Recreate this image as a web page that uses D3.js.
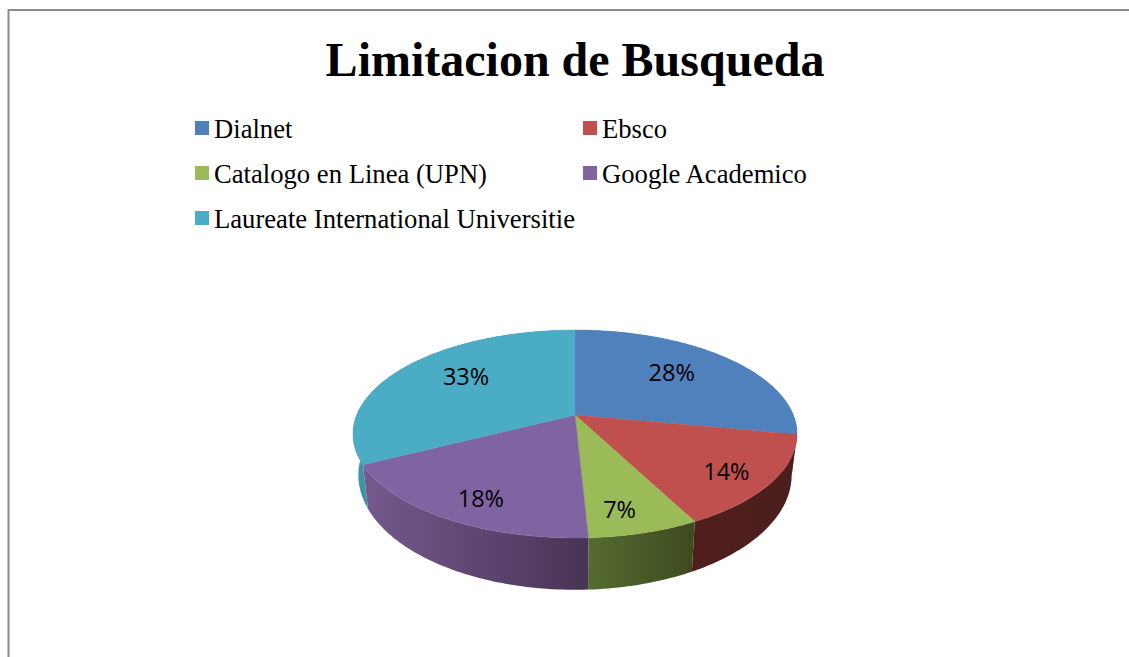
<!DOCTYPE html>
<html>
<head>
<meta charset="utf-8">
<script src="https://cdn.jsdelivr.net/npm/d3@7"></script>
<style>
  html, body { margin: 0; background: #fff; overflow: hidden; }
</style>
</head>
<body>
<div id="canvas"></div>
<script>
const categories = [
  'Dialnet',
  'Ebsco',
  'Catalogo en Linea (UPN)',
  'Google Academico',
  'Laureate International Universitie'
]
const shares = [28, 14.4, 6.8, 18.3, 32.5]
const colors = ['#4f81bd', '#c0504d', '#9bbb59', '#8064a2', '#4bacc6']
const sideLeft = ['#3a6591', '#4f1f1d', '#566b30', '#75598f', '#3f93a9']
const sideRight = ['#3a6591', '#4b1e1c', '#3d4a20', '#483454', '#3f93a9']

const width = 1129
const height = 657

// where each percent sits inside its slice (share of radius, px nudge)
const labelRadius = [0.63, 0.8, 0.82, 0.8, 0.62]
const labelNudge = [[-2, -5], [-2, 4], [-10, 2], [6, 4], [0, -8]]

const svg = d3.select('#canvas')
  .append('svg')
    .attr('width', width)
    .attr('height', height)
    .style('display', 'block')

// chart frame, runs off the right and bottom of the page
svg.append('path')
  .attr('d', `M${width + 5},10H8.5V${height + 5}`)
  .attr('fill', 'none')
  .attr('stroke', '#8c8c8c')
  .attr('stroke-width', 2)

svg.append('text')
  .attr('x', 575)
  .attr('y', 76)
  .attr('text-anchor', 'middle')
  .attr('font-family', 'Liberation Serif')
  .attr('font-weight', 'bold')
  .attr('font-size', 48)
  .attr('fill', '#000')
  .text('Limitacion de Busqueda')

const rowY = d3.scalePoint().domain([0, 1, 2]).range([128, 218])
const colX = d3.scalePoint().domain([0, 1]).range([195, 583])

const legend = svg.append('g')
  .selectAll('g')
  .data(categories)
  .join('g')
    .attr('transform', (d, i) => `translate(${colX(i % 2)}, ${rowY(Math.floor(i / 2))})`)

legend.append('rect')
  .attr('y', -7)
  .attr('width', 14)
  .attr('height', 14)
  .attr('fill', (d, i) => colors[i])

legend.append('text')
  .attr('x', 19)
  .attr('y', 10)
  .attr('font-family', 'Liberation Serif')
  .attr('font-size', 26.65)
  .attr('fill', '#000')
  .text(d => d)

// perspective projection of the pie disc: u goes right, v comes toward the viewer
const cx = 575
const tilt = 0.1827
const topFace = { y: 415, sx: 218.3, sy: 100.5 }
const bottomFace = { y: 454, sx: 213, sy: 111 }

function project(face, angle, r = 1) {
  const u = Math.sin(angle) * r
  const v = -Math.cos(angle) * r
  const d = 1 - tilt * v
  return [cx + face.sx * u / d, face.y + face.sy * v / d]
}

function arcPoints(face, a0, a1) {
  const n = Math.max(2, Math.ceil((a1 - a0) / 0.02))
  return d3.range(n + 1).map(i => project(face, a0 + (a1 - a0) * i / n))
}

const pie = d3.pie().sort(null)
const slices = pie(shares)
const line = d3.line()

const defs = svg.append('defs')
slices.forEach((s, i) => {
  const g = defs.append('linearGradient').attr('id', `side${i}`)
  g.append('stop').attr('offset', 0).attr('stop-color', sideLeft[i])
  g.append('stop').attr('offset', 1).attr('stop-color', sideRight[i])
})

svg.append('g')
  .selectAll('path')
  .data(slices)
  .join('path')
    .attr('fill', (d, i) => `url(#side${i})`)
    .attr('d', d => line(arcPoints(topFace, d.startAngle, d.endAngle)
      .concat(arcPoints(bottomFace, d.startAngle, d.endAngle).reverse())) + 'Z')

svg.append('g')
  .selectAll('path')
  .data(slices)
  .join('path')
    .attr('fill', (d, i) => colors[i])
    .attr('stroke', (d, i) => colors[i])
    .attr('stroke-width', 0.4)
    .attr('d', d => line([project(topFace, 0, 0)].concat(arcPoints(topFace, d.startAngle, d.endAngle))) + 'Z')

svg.append('g')
  .selectAll('text')
  .data(slices)
  .join('text')
    .attr('transform', (d, i) => {
      const p = project(topFace, (d.startAngle + d.endAngle) / 2, labelRadius[i])
      return `translate(${p[0] + labelNudge[i][0]}, ${p[1] + labelNudge[i][1]})`
    })
    .attr('text-anchor', 'middle')
    .attr('dy', '0.36em')
    .attr('font-family', 'Open Sans')
    .attr('font-size', 23.5)
    .attr('fill', '#000')
    .text(d => `${Math.round(d.value)}%`)
</script>
</body>
</html>
